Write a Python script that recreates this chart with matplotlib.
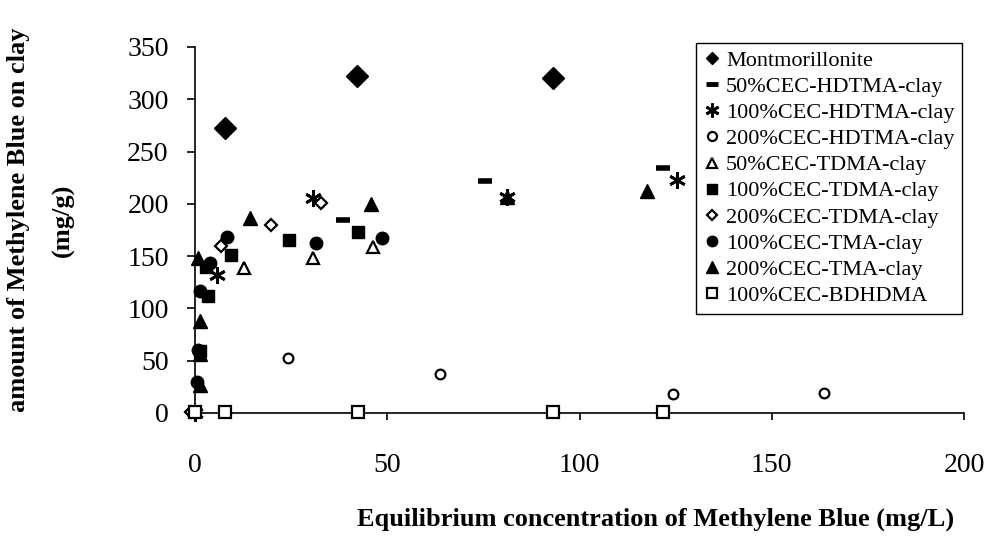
import matplotlib
matplotlib.use("Agg")
import matplotlib.pyplot as plt
from matplotlib.lines import Line2D

plt.rcParams['font.family'] = ['Liberation Serif', 'DejaVu Serif']

# data
mont_x = [7.8, 42.1, 93.1]
mont_y = [273, 322, 320]
hd50_x = [38.5, 75.4, 121.7]
hd50_y = [184.5, 222, 234]
hd100_x = [0, 5.7, 30.7, 81.1, 125.4]
hd100_y = [0, 132, 205.5, 206.5, 223]
hd200_x = [0, 24.2, 63.7, 124.3, 163.6]
hd200_y = [0, 52.6, 37, 18, 19]
td50_x = [12.8, 30.7, 46.3]
td50_y = [139, 148, 159]
td100_x = [1.2, 3.3, 2.9, 9.3, 24.5, 42.4]
td100_y = [59, 112, 140, 151, 165, 173]
td200_x = [-1.0, 6.8, 19.7, 32.8]
td200_y = [1, 160, 180, 201]
tma100_x = [0.5, 0.9, 1.2, 3.9, 8.3, 31.5, 48.6]
tma100_y = [30, 60, 117, 143, 168, 163, 167]
tma200_x = [1.2, 1.4, 1.4, 0.8, 14.3, 45.8, 81.1, 117.6]
tma200_y = [27, 56, 88, 148, 186, 200, 207, 212]
bd_x = [0, 7.8, 42.4, 93.1, 121.7]
bd_y = [1, 1, 1, 1, 1]

labels = ['Montmorillonite', '50%CEC-HDTMA-clay', '100%CEC-HDTMA-clay',
          '200%CEC-HDTMA-clay', '50%CEC-TDMA-clay', '100%CEC-TDMA-clay',
          '200%CEC-TDMA-clay', '100%CEC-TMA-clay', '200%CEC-TMA-clay',
          '100%CEC-BDHDMA']

fig = plt.figure(figsize=(9.88, 5.47), dpi=100)
ax = fig.add_axes([0.1974, 0.2450, 0.7783, 0.6691])

series = [
    (mont_x, mont_y, dict(marker='D', ms=11, mfc='k', mec='k')),
    (hd50_x, hd50_y, dict(marker='_', ms=10, mec='k', mew=4)),
    (hd100_x, hd100_y, dict(marker=(6, 2, 0), ms=12, mec='k', mew=2)),
    (hd200_x, hd200_y, dict(marker='o', ms=7, mfc='white', mec='k', mew=1.6)),
    (td50_x, td50_y, dict(marker='^', ms=9, mfc='white', mec='k', mew=1.6)),
    (td100_x, td100_y, dict(marker='s', ms=8.5, mfc='k', mec='k')),
    (td200_x, td200_y, dict(marker='D', ms=6.5, mfc='white', mec='k', mew=1.6)),
    (tma100_x, tma100_y, dict(marker='o', ms=9, mfc='k', mec='k')),
    (tma200_x, tma200_y, dict(marker='^', ms=10, mfc='k', mec='k')),
    (bd_x, bd_y, dict(marker='s', ms=8, mfc='white', mec='k', mew=1.6)),
]
for x, y, st in series:
    ax.plot(x, y, linestyle='none', clip_on=False, zorder=3, **st)

ax.set_xlim(0, 200)
ax.set_ylim(0, 350)
ax.set_xticks([0, 50, 100, 150, 200])
ax.set_yticks(range(0, 351, 50))
for s in ['top', 'right']:
    ax.spines[s].set_visible(False)
for s in ['left', 'bottom']:
    ax.spines[s].set_linewidth(1.2)
ax.tick_params(axis='y', direction='out', length=6, width=1.2, pad=13, labelsize=20)
ax.tick_params(axis='x', direction='out', length=5, width=1.2, pad=24, labelsize=20)

# legend with small markers
leg_style = [
    dict(marker='D', ms=6, mfc='k', mec='k'),
    dict(marker='_', ms=9, mec='k', mew=3.5),
    dict(marker=(6, 2, 0), ms=10, mec='k', mew=2),
    dict(marker='o', ms=6.5, mfc='white', mec='k', mew=1.6),
    dict(marker='^', ms=7.5, mfc='white', mec='k', mew=1.6),
    dict(marker='s', ms=7, mfc='k', mec='k'),
    dict(marker='D', ms=5.5, mfc='white', mec='k', mew=1.6),
    dict(marker='o', ms=7.5, mfc='k', mec='k'),
    dict(marker='^', ms=8.5, mfc='k', mec='k'),
    dict(marker='s', ms=6.5, mfc='white', mec='k', mew=1.6),
]
handles = [Line2D([], [], linestyle='none', **st) for st in leg_style]
leg = ax.legend(handles, labels, loc='upper right', bbox_to_anchor=(0.998, 1.012),
                borderaxespad=0, fontsize=16, frameon=True, fancybox=False,
                edgecolor='k', framealpha=1, handlelength=0.7, handletextpad=0.3,
                labelspacing=0.25, borderpad=0.35)
leg.get_frame().set_linewidth(1.0)

fig.text(0.664, 0.05, 'Equilibrium concentration of Methylene Blue (mg/L)',
         ha='center', va='center', fontsize=19, fontweight='bold')
fig.text(0.019, 0.598, 'amount of Methylene Blue on clay', rotation=90,
         ha='center', va='center', fontsize=19, fontweight='bold')
fig.text(0.064, 0.598, '(mg/g)', rotation=90,
         ha='center', va='center', fontsize=19, fontweight='bold')

fig.savefig('out.png', dpi=100)
